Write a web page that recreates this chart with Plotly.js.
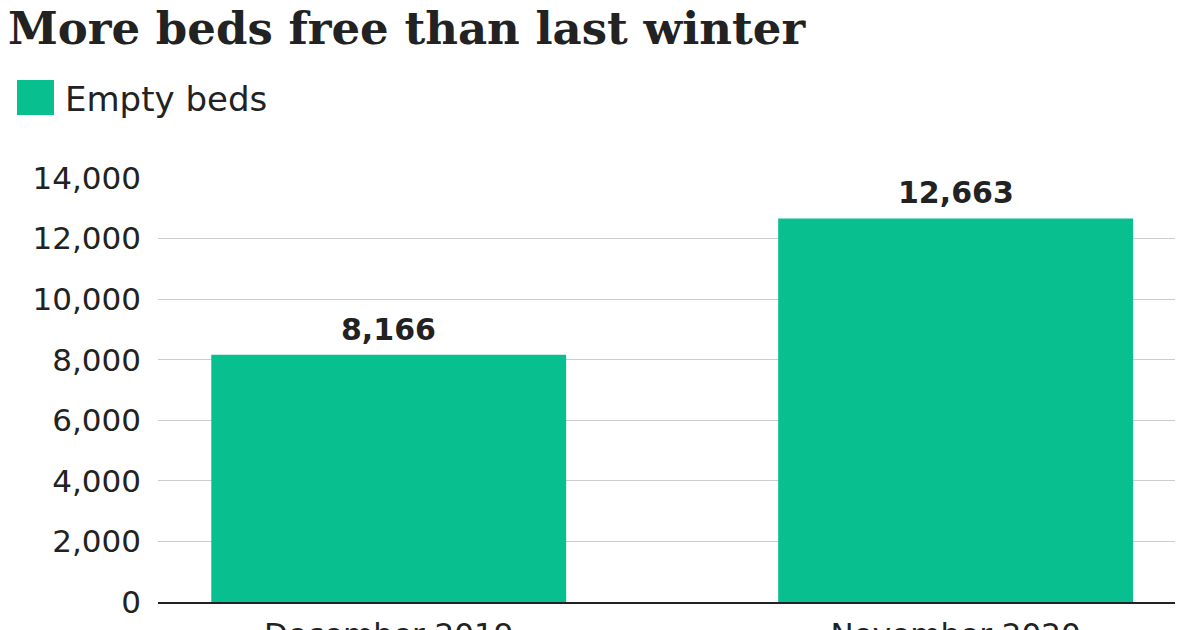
<!DOCTYPE html>
<html>
<head>
<meta charset="utf-8">
<script src="https://cdn.plot.ly/plotly-3.0.1.min.js"></script>
<style>html,body{margin:0;padding:0;background:#fff;}#chart{width:1200px;height:630px;}</style>
</head>
<body>
<div id="chart"></div>
<script>
const categories = ["December 2019", "November 2020"];
const emptyBeds = [8166, 12663];
const seriesName = "Empty beds";
const yTicks = [0, 2000, 4000, 6000, 8000, 10000, 12000, 14000];
const yTickLabels = ["0", "2,000", "4,000", "6,000", "8,000", "10,000", "12,000", "14,000"];

const barColor = "#08bf8f";
const textColor = "#222222";

const trace = {
  type: "bar",
  x: categories,
  y: emptyBeds,
  name: seriesName,
  marker: {color: barColor},
  showlegend: false,
  hoverinfo: "x+y"
};

const labelAnnotations = categories.map((c, i) => ({
  x: c, y: emptyBeds[i], xref: "x", yref: "y",
  text: "<b>" + emptyBeds[i].toLocaleString("en-GB") + "</b>",
  showarrow: false, yanchor: "bottom", yshift: 6,
  font: {family: "DejaVu Sans", size: 30, color: textColor}
}));

const layout = {
  width: 1200, height: 630,
  margin: {l: 158, r: 25, t: 178, b: 28},
  paper_bgcolor: "#fff", plot_bgcolor: "#fff",
  bargap: 0.374,
  title: {
    text: "<b>More beds free than last winter</b>",
    font: {family: "DejaVu Serif", size: 45, color: textColor},
    x: 8/1200, xanchor: "left", xref: "container",
    y: 1 - 12/630, yanchor: "top", yref: "container"
  },
  xaxis: {
    type: "category",
    range: [-0.407, 1.387],
    showgrid: false, zeroline: false,
    showline: true, linecolor: "#222", linewidth: 2,
    ticks: "", automargin: false, ticklabelstandoff: 4,
    tickfont: {family: "DejaVu Sans", size: 31, color: textColor},
    fixedrange: true
  },
  yaxis: {
    range: [0, 14000],
    tickvals: yTicks, ticktext: yTickLabels,
    showgrid: true, gridcolor: "#cccccc", gridwidth: 1,
    zeroline: false, showline: false, ticks: "",
    ticklabelstandoff: 16, automargin: false,
    tickfont: {family: "DejaVu Sans", size: 31, color: textColor},
    fixedrange: true
  },
  shapes: [{
    type: "rect", xref: "paper", yref: "paper",
    x0: -141/1017, x1: -104/1017, y0: (602-115)/424, y1: (602-80)/424,
    fillcolor: barColor, line: {width: 0}
  }],
  annotations: labelAnnotations.concat([{
    xref: "paper", yref: "paper",
    x: -95/1017, y: (602-99)/424, xanchor: "left", yanchor: "middle",
    text: seriesName, showarrow: false,
    font: {family: "DejaVu Sans", size: 34, color: textColor}
  }])
};

Plotly.newPlot("chart", [trace], layout, {displayModeBar: false, staticPlot: true});
</script>
</body>
</html>
